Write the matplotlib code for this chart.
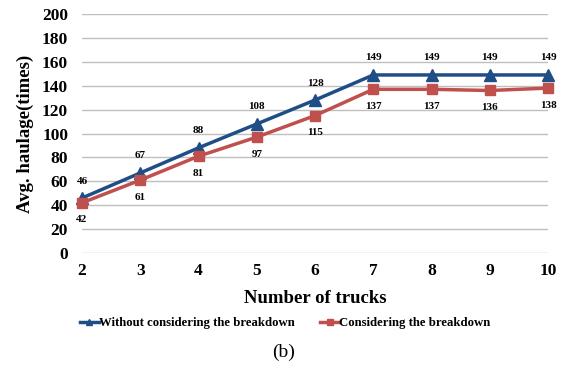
import matplotlib
matplotlib.use('Agg')
import matplotlib.pyplot as plt

trucks = [2, 3, 4, 5, 6, 7, 8, 9, 10]
without_breakdown = [46, 67, 88, 108, 128, 149, 149, 149, 149]
with_breakdown = [42, 61, 81, 97, 115, 137, 137, 136, 138]

plt.rcParams['font.family'] = 'Liberation Serif'
plt.rcParams['font.weight'] = 'bold'

blue = '#1F4E87'
red = '#C0504D'

fig = plt.figure(figsize=(5.67, 3.66), dpi=100)
ax = fig.add_axes([0.1446, 0.3087, 0.822, 0.653])

ax.plot(trucks, without_breakdown, '-^', color=blue, lw=2.5, ms=8,
        label='Without considering the breakdown', clip_on=False, zorder=3)
ax.plot(trucks, with_breakdown, '-s', color=red, lw=2.5, ms=7,
        label='Considering the breakdown', clip_on=False, zorder=3)

for x, y in zip(trucks, without_breakdown):
    ax.annotate(str(y), (x, y), xytext=(0, 9), textcoords='offset points',
                ha='center', va='bottom', fontsize=8, fontweight='bold')
for x, y in zip(trucks, with_breakdown):
    ax.annotate(str(y), (x, y), xytext=(0, -9), textcoords='offset points',
                ha='center', va='top', fontsize=8, fontweight='bold')

ax.set_xlim(2, 10)
ax.set_ylim(0, 200)
ax.set_yticks(range(0, 201, 20))
ax.set_xticks(trucks)
ax.grid(axis='y', color='#BFBFBF', lw=1)
ax.set_axisbelow(True)
for s in ax.spines.values():
    s.set_visible(False)
ax.tick_params(length=0, labelsize=12.5, pad=7)
ax.tick_params(axis='y', pad=10)
for t in ax.get_xticklabels() + ax.get_yticklabels():
    t.set_fontweight('bold')

ax.set_xlabel('Number of trucks', fontsize=13.5, fontweight='bold', labelpad=8)
ax.set_ylabel('Avg. haulage(times)', fontsize=13.5, fontweight='bold', labelpad=6)

fig.legend(loc='center', bbox_to_anchor=(0.503, 0.117), ncol=2, frameon=False,
           handlelength=1.5, handletextpad=0.0, columnspacing=2.0, markerscale=0.6,
           prop={'weight': 'bold', 'size': 9.2})
fig.text(0.5, 0.038, '(b)', ha='center', va='center', fontsize=14, fontweight='normal')

fig.savefig('out.png', dpi=100)
